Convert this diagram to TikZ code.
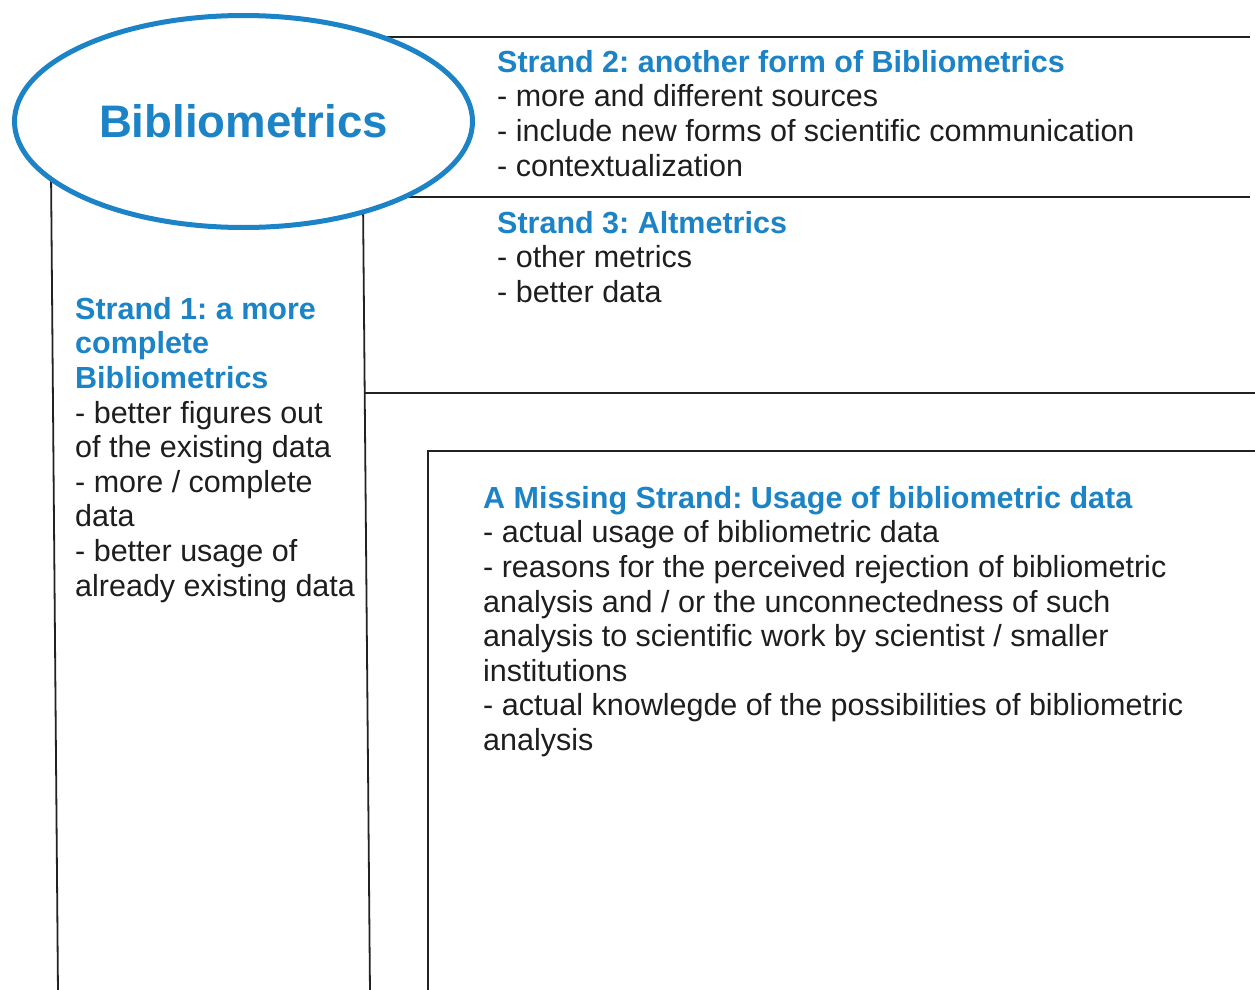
\documentclass[tikz,border=0pt]{standalone}
\usepackage{fontspec}
\setmainfont{Liberation Sans}
\usetikzlibrary{shapes.geometric}
\frenchspacing
\definecolor{bibblue}{HTML}{1C84C6}
\definecolor{ink}{HTML}{1E1E1E}
\definecolor{rulecol}{HTML}{222222}
\newcommand{\bodyfont}{\fontsize{30.5}{34.6}\selectfont\frenchspacing}
\newcommand{\ttl}[1]{\textcolor{bibblue}{\bfseries #1}}
\newcommand{\topstrut}{\rule{0pt}{24.4pt}}
\tikzset{
  frame/.style={draw=rulecol, line width=1.8pt},
  txt/.style={anchor=north west, inner sep=0pt, align=left, text=ink, font=\bodyfont},
  bigoval/.style={ellipse, draw=bibblue, line width=5pt, fill=white, minimum width=458pt, minimum height=212pt, inner sep=0pt, text=bibblue, font=\fontsize{45.6}{50}\selectfont\bfseries}
}
\begin{document}
\begin{tikzpicture}[x=1pt,y=-1pt]
\useasboundingbox (0,0) rectangle (1255,990);
\fill[white] (0,0) rectangle (1255,990);
% frame coordinates
\coordinate (t1a) at (380,37);   \coordinate (t1b) at (1250,37);
\coordinate (t2a) at (400,197);  \coordinate (t2b) at (1250,197);
\coordinate (lva) at (51,170);   \coordinate (lvb) at (58,993);
\coordinate (rva) at (363,200);  \coordinate (rvb) at (370,993);
\coordinate (h3a) at (365,393);  \coordinate (h3b) at (1258,393);
\coordinate (bxa) at (1258,451); \coordinate (bxc) at (428,451); \coordinate (bxb) at (428,993);
\draw[frame] (t1a) -- (t1b);
\draw[frame] (t2a) -- (t2b);
\draw[frame] (lva) -- (lvb);
\draw[frame] (rva) -- (rvb);
\draw[frame] (h3a) -- (h3b);
\draw[frame] (bxa) -- (bxc) -- (bxb);
% central ellipse
\node[bigoval] (bib) at (243.5,121.5) {Bibliometrics};
% texts
\node[txt] (s2) at (497,47.6) {\topstrut\ttl{Strand 2: another form of Bibliometrics}\\
- more and different sources\\
- include new forms of scientific communication\\
- contextualization};
\node[txt] (s3) at (497,208.6) {\topstrut\ttl{Strand 3: Altmetrics}\\
- other metrics\\
- better data};
\node[txt] (s1) at (75,294.6) {\topstrut\ttl{Strand 1: a more}\\
\ttl{complete}\\
\ttl{Bibliometrics}\\
- better figures out\\
of the existing data\\
- more / complete\\
data\\
- better usage of\\
already existing data};
\node[txt] (ms) at (483,483.6) {\topstrut\ttl{A Missing Strand: Usage of bibliometric data}\\
- actual usage of bibliometric data\\
- reasons for the perceived rejection of bibliometric\\
analysis and / or the unconnectedness of such\\
analysis to scientific work by scientist / smaller\\
institutions\\
- actual knowlegde of the possibilities of bibliometric\\
analysis};
\end{tikzpicture}
\end{document}
